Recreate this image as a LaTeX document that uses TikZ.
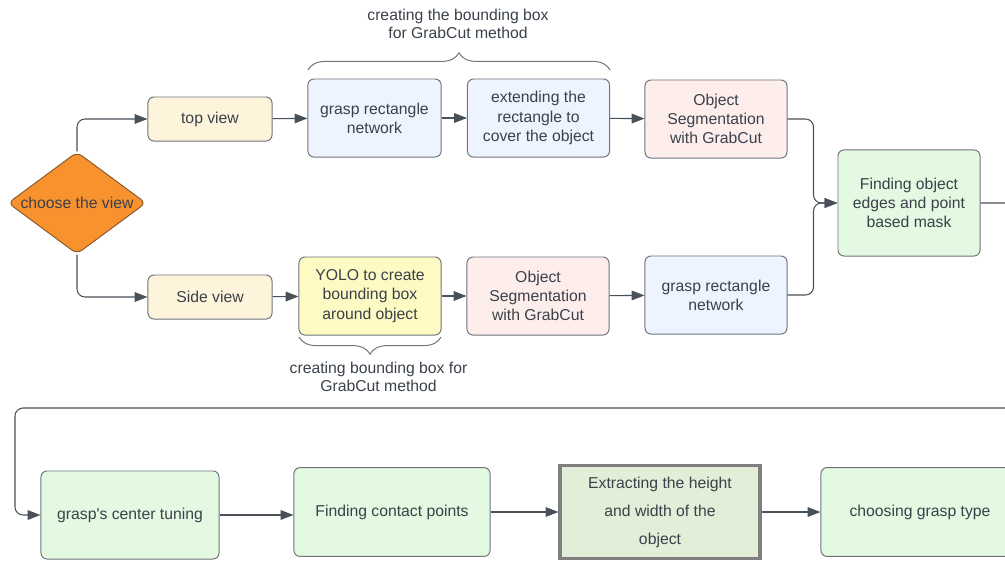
\documentclass[tikz,border=0pt]{standalone}
\usepackage{fontspec}
\setmainfont{Liberation Sans}
\usepackage{tikz}
\usetikzlibrary{positioning,shapes.geometric,arrows.meta,decorations.pathreplacing}
\definecolor{txtgray}{HTML}{3A414A}
\definecolor{linegray}{HTML}{4A5059}
\definecolor{boxline}{HTML}{6E747C}
\definecolor{orangefill}{HTML}{F7922F}
\definecolor{orangeline}{HTML}{8C5A2A}
\definecolor{creamfill}{HTML}{FEF3DB}
\definecolor{bluefill}{HTML}{EDF4FF}
\definecolor{pinkfill}{HTML}{FDEEEC}
\definecolor{yellowfill}{HTML}{FEFAC4}
\definecolor{greenfill}{HTML}{E3F9E2}
\definecolor{sagefill}{HTML}{E2EED8}
\definecolor{thickgray}{HTML}{7F7F7F}

\begin{document}
\begin{tikzpicture}[
    x=0.025cm, y=-0.025cm,
    font=\fontsize{11.2}{13.7}\selectfont,
    every node/.style={text=txtgray},
    box/.style={rectangle, draw=boxline, line width=0.7pt, rounded corners=0.15cm, align=center, inner sep=0pt},
    viewbox/.style={box, fill=creamfill, minimum width=3.1cm, minimum height=1.1cm},
    stepbox/.style={box, minimum width=3.55cm, minimum height=1.95cm},
    greenbox/.style={box, fill=greenfill, minimum height=2.22cm},
    choice/.style={diamond, aspect=1.35, draw=orangeline, fill=orangefill, line width=0.7pt, rounded corners=0.15cm, minimum width=3.45cm, minimum height=2.55cm, inner sep=0pt},
    arrow/.style={-{Triangle[length=0.32cm,width=0.24cm]}, draw=linegray, line width=0.75pt, rounded corners=0.2cm},
    brace/.style={draw=boxline, line width=0.7pt, decorate, decoration={brace, amplitude=0.43cm}}
]
    \clip (0,0) rectangle (1005,560);

    % first row: choice and the two views
    \node[choice] (choose) at (77,203) {choose the view};
    \node[viewbox] (top) at (210,119) {top view};
    \node[viewbox] (side) at (210,297) {Side view};

    \node[stepbox, fill=bluefill, minimum width=3.33cm] (graspTop) at (374.5,118) {grasp rectangle\\network};
    \node[stepbox, fill=bluefill] (extend) at (538.5,118) {extending the\\rectangle to\\cover the object};
    \node[stepbox, fill=pinkfill] (segTop) at (716,119) {Object\\Segmentation\\with GrabCut};

    \node[stepbox, fill=yellowfill] (yolo) at (370,296) {YOLO to create\\bounding box\\around object};
    \node[stepbox, fill=pinkfill] (segSide) at (538,296) {Object\\Segmentation\\with GrabCut};
    \node[stepbox, fill=bluefill] (graspSide) at (716,295) {grasp rectangle\\network};

    \node[box, fill=greenfill, minimum width=3.55cm, minimum height=2.65cm] (find) at (909,203) {Finding object\\edges and point\\based mask};

    % braces
    \draw[brace] (308,70) -- (610,70);
    \node[align=center, font=\fontsize{11.2}{13}\selectfont] (braceTop) at (458,24) {creating the bounding box\\for GrabCut method};
    \draw[brace] (441,337) -- (299,337);
    \node[align=center, font=\fontsize{11.2}{13}\selectfont] (braceSide) at (378.5,377) {creating bounding box for\\GrabCut method};

    % second row
    \node[greenbox, minimum width=4.45cm, minimum height=2.2cm] (tune) at (130,515) {grasp\textquotesingle s center tuning};
    \node[greenbox, minimum width=4.9cm] (contact) at (392,512) {Finding contact points};
    \node[rectangle, draw=thickgray, line width=2.2pt, fill=sagefill, minimum width=5cm, minimum height=2.33cm, align=center, inner sep=0pt, font=\fontsize{11.2}{19.9}\selectfont] (extract) at (660,512) {Extracting the height\\and width of the\\object};
    \node[greenbox, minimum width=4.95cm] (grasptype) at (920,512) {choosing grasp type};

    \coordinate (wrapR) at (1030,408);
    \coordinate (wrapL) at (15,408);

    \draw[arrow] (choose.north) |- (top);
    \draw[arrow] (choose.south) |- (side);
    \draw[arrow] (top) -- (graspTop);
    \draw[arrow] (graspTop) -- (extend);
    \draw[arrow] (extend) -- (segTop);
    \draw[arrow] (side) -- (yolo);
    \draw[arrow] (yolo) -- (segSide);
    \draw[arrow] (segSide) -- (graspSide);
    \draw[arrow] (segTop.east) -- ++(26,0) |- (find.west);
    \draw[arrow] (graspSide.east) -- ++(26,0) |- (find.west);
    \draw[arrow] (find.east) -| (wrapR) -- (wrapL) |- (tune.west);
    \draw[arrow] (tune) -- (contact.west |- tune);
    \draw[arrow] (contact) -- (extract);
    \draw[arrow] (extract) -- (grasptype);
\end{tikzpicture}
\end{document}
